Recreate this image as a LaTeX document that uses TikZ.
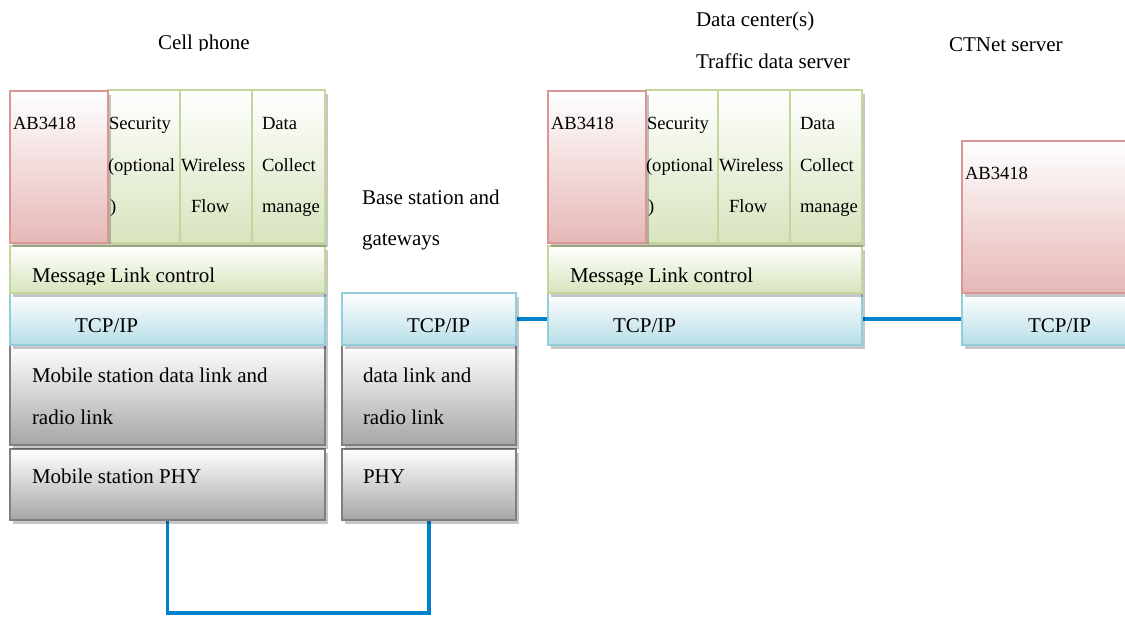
\documentclass[tikz,border=0pt]{standalone}
\usepackage{fontspec}
\setmainfont{Liberation Serif}
\usetikzlibrary{shadows,backgrounds}

\definecolor{pinkline}{RGB}{217,150,148}
\definecolor{pinkfill}{RGB}{230,184,183}
\definecolor{greenline}{RGB}{195,214,155}
\definecolor{greenfill}{RGB}{215,228,189}
\definecolor{blueline}{RGB}{146,205,220}
\definecolor{bluefill}{RGB}{183,222,232}
\definecolor{grayline}{RGB}{127,127,127}
\definecolor{grayfill}{RGB}{166,166,166}
\definecolor{wire}{RGB}{0,130,205}

\tikzset{
  layer/.style={rectangle, anchor=north west, inner sep=0pt, outer sep=0pt,
    line width=1.8pt, shading=axis, top color=white,
    drop shadow={shadow xshift=3pt, shadow yshift=-4pt, fill=black, opacity=0.22}},
  pinkbox/.style={layer, draw=pinkline, bottom color=pinkfill},
  greenbox/.style={layer, draw=greenline, bottom color=greenfill},
  bluebox/.style={layer, draw=blueline, bottom color=bluefill},
  graybox/.style={layer, line width=2.2pt, draw=grayline, bottom color=grayfill},
  txt/.style={anchor=base west, inner sep=0pt, outer sep=0pt, font=\fontsize{21}{25}\selectfont},
  celltxt/.style={txt, font=\fontsize{18.6}{22}\selectfont},
  link/.style={draw=wire, line width=3.6pt}
}

% box: style, name, left, top, right, bottom
\newcommand{\stackbox}[6]{%
  \node[#1, minimum width={(#5-#3)*1pt}, minimum height={(#6-#4)*1pt}] (#2) at (#3,#4) {};}

\begin{document}
\begin{tikzpicture}[x=1pt,y=-1pt]
\useasboundingbox (0,0) rectangle (1125,617);

% ---------- cell phone stack ----------
\stackbox{graybox}{cpPHY}{10}{449}{325}{520}
\stackbox{graybox}{cpDL}{10}{345}{325}{445}
\stackbox{bluebox}{cpTCP}{10}{293}{325}{345}
\stackbox{greenbox}{cpMsg}{10}{246}{325}{293}
\stackbox{greenbox}{cpSec}{108}{90}{180}{243}
\stackbox{greenbox}{cpWir}{180}{90}{252}{243}
\stackbox{greenbox}{cpDat}{252}{90}{325}{243}
\stackbox{pinkbox}{cpAB}{10}{91}{108}{243}

\begin{scope}
  \clip (0,0) rectangle (1125,51);
  \node[txt] (cpLabel) at (158,50) {Cell phone};
\end{scope}
\node[celltxt] (cpABt) at (13,130) {AB3418};
\node[celltxt] (cpSec1) at (109,130) {Security};
\node[celltxt] (cpSec2) at (108,172) {(optional};
\node[celltxt] (cpSec3) at (110,213) {)};
\node[celltxt] (cpWir1) at (181,172) {Wireless};
\node[celltxt] (cpWir2) at (191,213) {Flow};
\node[celltxt] (cpDat1) at (262,130) {Data};
\node[celltxt] (cpDat2) at (262,172) {Collect};
\node[celltxt] (cpDat3) at (262,213) {manage};
\begin{scope}
  \clip (0,0) rectangle (1125,284.5);
  \node[txt] (cpMsgt) at (32,283) {Message Link control};
\end{scope}
\node[txt] (cpTCPt) at (75,333) {TCP/IP};
\node[txt] (cpDL1) at (32,383) {Mobile station data link and};
\node[txt] (cpDL2) at (32,425) {radio link};
\node[txt] (cpPHYt) at (32,484) {Mobile station PHY};

% ---------- base station and gateways ----------
\stackbox{graybox}{bsPHY}{342}{449}{516}{520}
\stackbox{graybox}{bsDL}{342}{345}{516}{445}
\stackbox{bluebox}{bsTCP}{342}{293}{516}{345}

\node[txt] (bsLabel1) at (362,205) {Base station and};
\node[txt] (bsLabel2) at (362,246) {gateways};
\node[txt] (bsTCPt) at (407,333) {TCP/IP};
\node[txt] (bsDL1) at (363,383) {data link and};
\node[txt] (bsDL2) at (363,425) {radio link};
\node[txt] (bsPHYt) at (363,484) {PHY};

% ---------- data center / traffic data server ----------
\stackbox{bluebox}{dcTCP}{548}{293}{862}{345}
\stackbox{greenbox}{dcMsg}{548}{246}{862}{293}
\stackbox{greenbox}{dcSec}{646}{90}{718}{243}
\stackbox{greenbox}{dcWir}{718}{90}{790}{243}
\stackbox{greenbox}{dcDat}{790}{90}{862}{243}
\stackbox{pinkbox}{dcAB}{548}{91}{646}{243}

\node[txt] (dcLabel1) at (696,27) {Data center(s)};
\node[txt] (dcLabel2) at (696,69) {Traffic data server};
\node[celltxt] (dcABt) at (551,130) {AB3418};
\node[celltxt] (dcSec1) at (647,130) {Security};
\node[celltxt] (dcSec2) at (646,172) {(optional};
\node[celltxt] (dcSec3) at (648,213) {)};
\node[celltxt] (dcWir1) at (719,172) {Wireless};
\node[celltxt] (dcWir2) at (729,213) {Flow};
\node[celltxt] (dcDat1) at (800,130) {Data};
\node[celltxt] (dcDat2) at (800,172) {Collect};
\node[celltxt] (dcDat3) at (800,213) {manage};
\begin{scope}
  \clip (0,0) rectangle (1125,284.5);
  \node[txt] (dcMsgt) at (570,283) {Message Link control};
\end{scope}
\node[txt] (dcTCPt) at (613,333) {TCP/IP};

% ---------- CTNet server ----------
\stackbox{bluebox}{ctTCP}{962}{293}{1140}{345}
\stackbox{pinkbox}{ctAB}{962}{141}{1140}{293}

\node[txt] (ctLabel) at (949,52) {CTNet server};
\node[celltxt] (ctABt) at (965,180) {AB3418};
\node[txt] (ctTCPt) at (1028,333) {TCP/IP};

% ---------- links ----------
\begin{pgfonlayer}{background}
  \draw[link] (cpPHY.south) -- ++(0,93) -| (bsPHY.south);
  \draw[link] (bsTCP.east) -- (dcTCP.west);
  \draw[link] (dcTCP.east) -- (ctTCP.west);
\end{pgfonlayer}
\end{tikzpicture}
\end{document}
